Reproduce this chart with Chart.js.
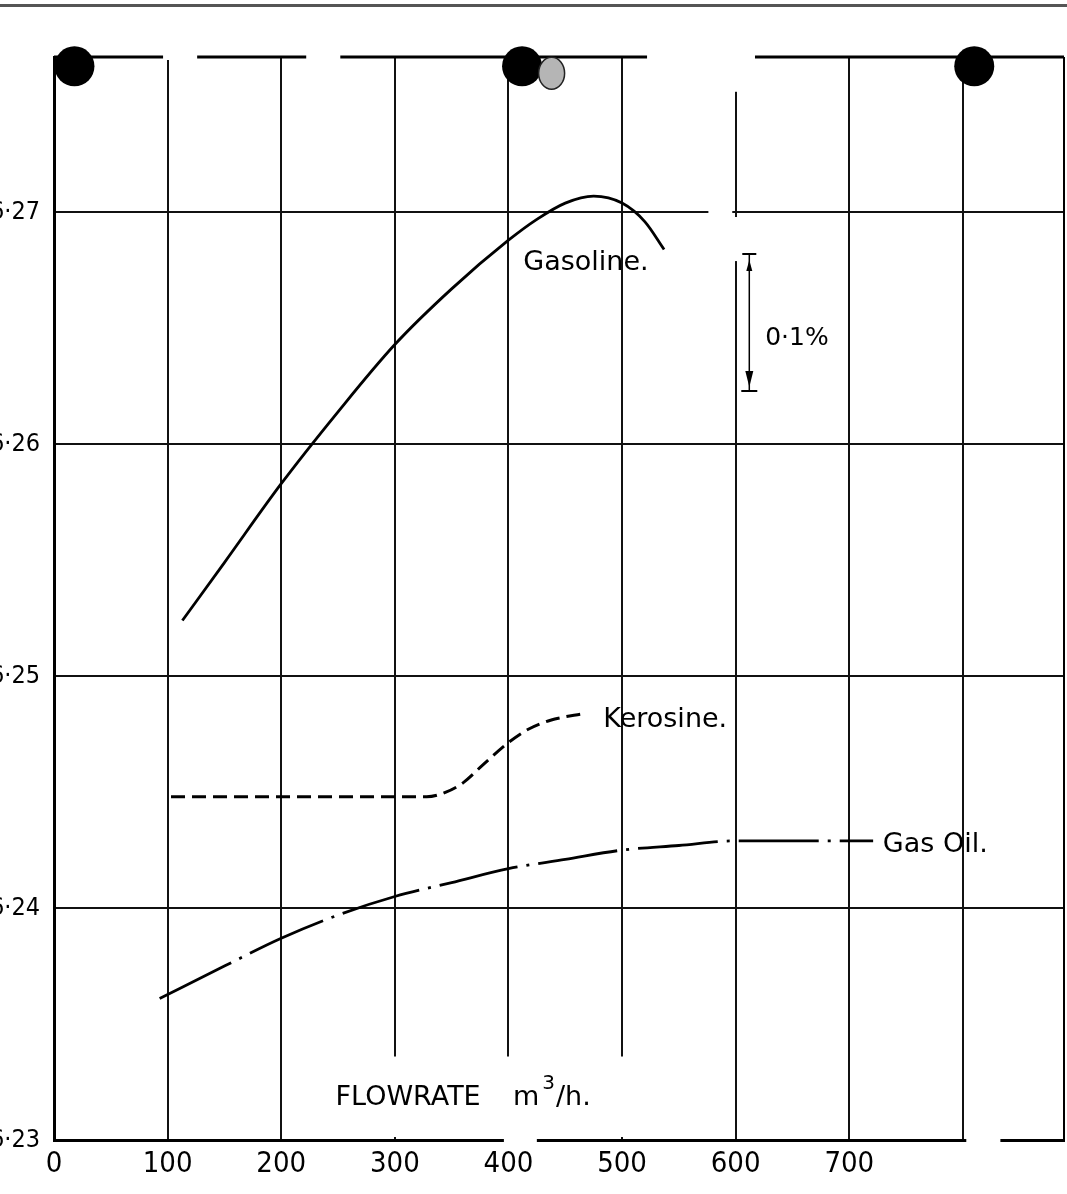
<!DOCTYPE html>
<html>
<head>
<meta charset="utf-8">
<title>Flowrate chart</title>
<script src="https://cdn.jsdelivr.net/npm/chart.js@4.4.1/dist/chart.umd.min.js"></script>
<style>
    html, body { margin: 0; padding: 0; background: #fff; overflow: hidden; }
    #chart-container { display: block; }
</style>
</head>
<body>
<canvas id="chart-container" width="1067" height="1194"></canvas>
<script>
// axis ticks
const xTicks = [0, 100, 200, 300, 400, 500, 600, 700, 800];
const xTickLabels = ["0", "100", "200", "300", "400", "500", "600", "700", ""];
const yTicks = [6.23, 6.24, 6.25, 6.26, 6.27];
const yTickLabels = ["6·23", "6·24", "6·25", "6·26", "6·27"];

// curves (flowrate m3/h, value)
const gasolineFlow = [113, 150, 200, 250, 300, 350, 400, 425, 450, 475, 500, 520, 537];
const gasolineValue = [6.2524, 6.2549, 6.2583, 6.2614, 6.2643, 6.2667, 6.2688, 6.2697, 6.2704, 6.2707, 6.2704, 6.2696, 6.2684];

const kerosineFlow = [103, 200, 300, 328, 345, 360, 378, 399, 417, 437, 468];
const kerosineValue = [6.2448, 6.2448, 6.2448, 6.2448, 6.2450, 6.2454, 6.2462, 6.2471, 6.2477, 6.2481, 6.2484];

const gasOilFlow = [93, 150, 200, 250, 300, 350, 400, 450, 500, 550, 600, 650, 721];
const gasOilValue = [6.2361, 6.2375, 6.2387, 6.2397, 6.2405, 6.2411, 6.2417, 6.2421, 6.2425, 6.2427, 6.2429, 6.2429, 6.2429];

// the 0.1% scale bar
const scaleBarFlow = 612;
const scaleBarTop = 6.2682;
const scaleBarBottom = 6.2623;

// punched holes along the top edge of the sheet
const holeFlow = [18, 412, 810];
const holeValue = [6.2763, 6.2763, 6.2763];

function toPoints(xs, ys) {
    return xs.map(function (x, i) { return { x: x, y: ys[i] }; });
}

const labelFont = '27px "DejaVu Sans", sans-serif';

const decorations = {
    id: "decorations",
    beforeDatasetsDraw: function (chart) {
        const ctx = chart.ctx;
        const area = chart.chartArea;
        const xs = chart.scales.x;
        const ys = chart.scales.y;
        const px = v => xs.getPixelForValue(v);
        const py = v => ys.getPixelForValue(v);

        ctx.save();
        // scan edge at the very top
        ctx.fillStyle = "#555";
        ctx.fillRect(0, 4, chart.width, 3);

        // top and right frame lines
        ctx.strokeStyle = "#000";
        ctx.lineWidth = 3;
        ctx.beginPath();
        ctx.moveTo(area.left, area.top);
        ctx.lineTo(area.right, area.top);
        ctx.stroke();
        ctx.lineWidth = 2;
        ctx.beginPath();
        ctx.moveTo(area.right, area.top);
        ctx.lineTo(area.right, area.bottom);
        ctx.stroke();

        // gaps in the printed grid
        ctx.fillStyle = "#fff";
        function eraseH(v, a, b) { ctx.fillRect(px(a), py(v) - 3, px(b) - px(a), 6); }
        function eraseV(f, a, b) { ctx.fillRect(px(f) - 3, py(a), 6, py(b) - py(a)); }
        eraseH(ys.max, 96, 126);
        eraseH(ys.max, 222, 252);
        eraseH(ys.max, 522, 617);
        eraseV(600, ys.max + 0.0001, 6.2752);
        eraseH(6.27, 576, 597);
        eraseV(600, 6.2698, 6.2679);
        eraseH(6.23, 396, 425);
        eraseH(6.23, 803, 833);

        // clear box behind the axis title
        const top = py(6.2336);
        const bottom = area.bottom - 3;
        ctx.fillRect(px(252), top, px(551) - px(252), bottom - top);
        ctx.restore();
    },
    afterDatasetsDraw: function (chart) {
        const ctx = chart.ctx;
        const xs = chart.scales.x;
        const ys = chart.scales.y;
        const px = v => xs.getPixelForValue(v);
        const py = v => ys.getPixelForValue(v);

        ctx.save();
        ctx.fillStyle = "#000";
        ctx.textBaseline = "alphabetic";
        ctx.textAlign = "left";
        ctx.font = labelFont;
        ctx.fillText("Gasoline.", px(413), py(6.2675));
        ctx.fillText("Kerosine.", px(483.5), py(6.2478));
        ctx.fillText("Gas Oil.", px(729.5), py(6.2424));
        ctx.font = '25px "DejaVu Sans", sans-serif';
        ctx.fillText("0·1%", px(626), py(6.2643));

        // axis title with superscript
        ctx.font = labelFont;
        const tx = px(247.8);
        const ty = py(6.2315);
        ctx.fillText("FLOWRATE", tx, ty);
        let mx = px(404);
        ctx.fillText("m", mx, ty);
        mx += ctx.measureText("m").width + 3;
        ctx.font = '20px "DejaVu Sans", sans-serif';
        ctx.fillText("3", mx, ty - 16);
        mx += ctx.measureText("3").width + 1;
        ctx.font = labelFont;
        ctx.fillText("/h.", mx, ty);

        // 0.1% scale bar
        const bx = px(scaleBarFlow);
        const bt = py(scaleBarTop);
        const bb = py(scaleBarBottom);
        ctx.strokeStyle = "#000";
        ctx.lineWidth = 1.5;
        ctx.beginPath();
        ctx.moveTo(bx, bt);
        ctx.lineTo(bx, bb);
        ctx.stroke();
        ctx.lineWidth = 2;
        ctx.beginPath();
        ctx.moveTo(bx - 7, bt);
        ctx.lineTo(bx + 7, bt);
        ctx.moveTo(bx - 8, bb);
        ctx.lineTo(bx + 8, bb);
        ctx.stroke();
        ctx.beginPath();
        ctx.moveTo(bx, bt + 6);
        ctx.lineTo(bx - 3, bt + 17);
        ctx.lineTo(bx + 3, bt + 17);
        ctx.closePath();
        ctx.fill();
        ctx.beginPath();
        ctx.moveTo(bx, bb - 4);
        ctx.lineTo(bx - 4, bb - 20);
        ctx.lineTo(bx + 4, bb - 20);
        ctx.closePath();
        ctx.fill();

        // holes
        holeFlow.forEach(function (f, i) {
            ctx.beginPath();
            ctx.arc(px(f), py(holeValue[i]), 20, 0, Math.PI * 2);
            ctx.fillStyle = "#000";
            ctx.fill();
        });
        ctx.beginPath();
        ctx.ellipse(px(438), py(6.2760), 13, 16, 0, 0, Math.PI * 2);
        ctx.fillStyle = "#b5b5b5";
        ctx.fill();
        ctx.lineWidth = 1.5;
        ctx.strokeStyle = "#222";
        ctx.stroke();
        ctx.restore();
    }
};

const tickFont = { family: "'Liberation Sans Narrow', 'DejaVu Sans Condensed', sans-serif", size: 29 };
const yTickFont = { family: "'Liberation Sans Narrow', 'DejaVu Sans Condensed', sans-serif", size: 25 };

const ctx = document.getElementById("chart-container").getContext("2d");
new Chart(ctx, {
    type: "line",
    data: {
        datasets: [
            {
                label: "Gasoline",
                data: toPoints(gasolineFlow, gasolineValue),
                borderColor: "#000",
                borderWidth: 2.8,
                pointRadius: 0,
                cubicInterpolationMode: "monotone",
                fill: false,
            },
            {
                label: "Kerosine",
                data: toPoints(kerosineFlow, kerosineValue),
                borderColor: "#000",
                borderWidth: 3,
                borderDash: [14, 7],
                pointRadius: 0,
                cubicInterpolationMode: "monotone",
                fill: false,
            },
            {
                label: "Gas Oil",
                data: toPoints(gasOilFlow, gasOilValue),
                borderColor: "#000",
                borderWidth: 2.8,
                borderDash: [80, 9, 3, 9],
                pointRadius: 0,
                cubicInterpolationMode: "monotone",
                fill: false,
            },
        ],
    },
    options: {
        responsive: false,
        animation: false,
        devicePixelRatio: 1,
        layout: { padding: { top: 57, right: 3, left: 0, bottom: 0 } },
        plugins: {
            legend: { display: false },
            tooltip: { enabled: false },
        },
        scales: {
            x: {
                type: "linear",
                min: 0,
                max: 889,
                afterBuildTicks: function (scale) {
                    scale.ticks = xTicks.map(v => ({ value: v }));
                },
                afterFit: function (scale) {
                    scale.height = 54;
                },
                grid: { color: "#111", lineWidth: 2, drawTicks: false },
                border: { color: "#000", width: 3 },
                ticks: {
                    callback: (value, index) => xTickLabels[index],
                    font: tickFont,
                    color: "#000",
                    padding: 7,
                    maxRotation: 0,
                    autoSkip: false,
                },
            },
            y: {
                type: "linear",
                min: 6.23,
                max: 6.2767,
                afterBuildTicks: function (scale) {
                    scale.ticks = yTicks.map(v => ({ value: v }));
                },
                afterFit: function (scale) {
                    scale.width = 54;
                },
                grid: { color: "#111", lineWidth: 2, drawTicks: false },
                border: { color: "#000", width: 3 },
                ticks: {
                    callback: (value, index) => yTickLabels[index],
                    font: yTickFont,
                    color: "#000",
                    padding: 14,
                    autoSkip: false,
                },
            },
        },
    },
    plugins: [decorations],
});
</script>
</body>
</html>
